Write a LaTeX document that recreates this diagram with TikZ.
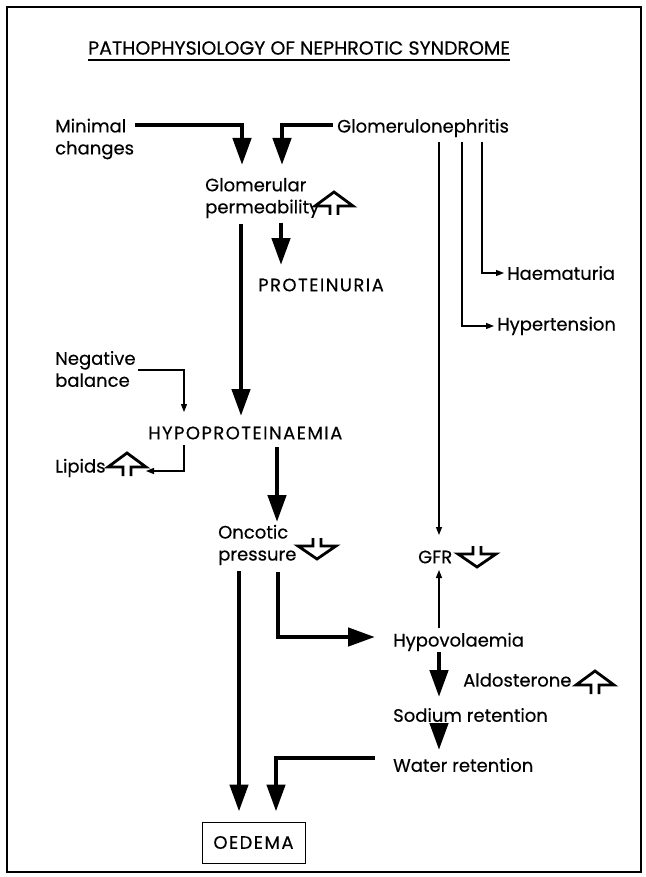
\documentclass[tikz,border=0pt]{standalone}
\usepackage{fontspec}
\setmainfont{Poppins}[FakeBold=0.35]
\usetikzlibrary{arrows.meta, calc}

\begin{document}
\begin{tikzpicture}[x=1pt, y=-1pt,
    txt/.style={anchor=west, align=left, inner sep=0pt, font=\fontsize{18}{22}\selectfont},
    caps/.style={txt, font=\fontsize{18}{22}\selectfont\addfontfeature{LetterSpace=8}},
    big/.style={line width=4.5pt, -{Triangle[width=18pt, length=27pt]}},
    small/.style={line width=1.3pt, -{Triangle[width=6pt, length=8pt]}},
    uparr/.pic={\draw[line width=2.8pt] (-4,9) -- (-4,0) -- (-19,0) -- (0,-14) -- (19,0) -- (4,0) -- (4,9);},
    downarr/.pic={\draw[line width=2.8pt] (-4,-8) -- (-4,0) -- (-19,0) -- (0,13) -- (19,0) -- (4,0) -- (4,-8);}]
    \useasboundingbox (0,0) rectangle (645,877);

    % Frame and title
    \draw[line width=1.5pt] (7,7) rectangle (641,872);
    \node[txt, font=\fontsize{19}{22}\selectfont] (title) at (88,48) {PATHOPHYSIOLOGY OF NEPHROTIC SYNDROME};
    \draw[line width=1.2pt] ([yshift=-5]title.south west) -- ([yshift=-5]title.south east);

    % Causes
    \node[txt] (minimal) at (55,139) {Minimal\\changes};
    \node[txt] (gn) at (337,128) {Glomerulonephritis};
    \node[txt] (perm) at (205,198) {Glomerular\\permeability};
    \pic at (334,206) {uparr};
    \node[caps] (prot) at (258,285) {PROTEINURIA};
    \node[txt] (haem) at (507,273) {Haematuria};
    \node[txt] (hyper) at (497,326) {Hypertension};

    % Protein loss
    \node[txt] (neg) at (55,369) {Negative\\balance};
    \node[caps] (hypop) at (148,433) {HYPOPROTEINAEMIA};
    \node[txt] (lipids) at (55,468) {Lipids};
    \pic at (127,467) {uparr};
    \node[txt] (onc) at (218,545) {Oncotic\\pressure};
    \pic at (317,546) {downarr};
    \node[txt] (gfr) at (418,557) {GFR};
    \pic at (477,554) {downarr};

    % Salt and water
    \node[txt] (hypov) at (393,642) {Hypovolaemia};
    \node[txt] (aldo) at (463,680) {Aldosterone};
    \pic at (595,685) {uparr};
    \node[txt] (sod) at (393,715) {Sodium retention};
    \node[txt] (water) at (393,765) {Water retention};
    \node[draw, line width=1pt, minimum width=103pt, minimum height=41pt,
          font=\fontsize{18}{20}\selectfont\addfontfeature{LetterSpace=8}] (oed) at (253.5,842.5) {OEDEMA};

    % Thick arrows
    \draw[big] ($(minimal.west)+(80,-14)$) -| ($(perm.west)+(37,-33)$);
    \draw[big] ($(gn.west)+(-4,-3)$) -| ($(perm.west)+(77,-33)$);
    \draw[big] ($(perm.west)+(36,26)$) -- ($(hypop.west)+(93,-17)$);
    \draw[big] ($(perm.west)+(76,25)$) -- ($(prot.west)+(23,-20)$);
    \draw[big] ($(hypop.west)+(129,14)$) -- ($(onc.west)+(59,-23)$);
    \draw[big] ($(onc.west)+(21,26)$) -- ($(oed.north)+(-14.5,-10)$);
    \draw[big] ($(onc.west)+(60,27)$) |- ($(hypov.west)+(-18,-5)$);
    \draw[big] ($(hypov.west)+(46,10)$) -- ($(sod.west)+(46,-18)$);
    \draw[big] ($(sod.west)+(46,13)$) -- ($(water.west)+(46,-15)$);
    \draw[big] ($(water.west)+(-18,-7)$) -| ($(oed.north)+(22.5,-10)$);

    % Thin arrows
    \draw[small] ($(gn.west)+(102,14)$) -- ($(gfr.west)+(21,-22)$);
    \draw[small] ($(gn.west)+(125,14)$) |- ($(hyper.west)+(-3,0)$);
    \draw[small] ($(gn.west)+(145,14)$) |- ($(haem.west)+(-3,0)$);
    \draw[small] ($(neg.west)+(83,1)$) -| ($(hypop.west)+(36,-21)$);
    \draw[small] ($(hypop.west)+(36,12)$) |- ($(lipids.west)+(91,3)$);
    \draw[small] ($(hypov.west)+(46,-14)$) -- ($(gfr.west)+(21,13)$);
\end{tikzpicture}
\end{document}
